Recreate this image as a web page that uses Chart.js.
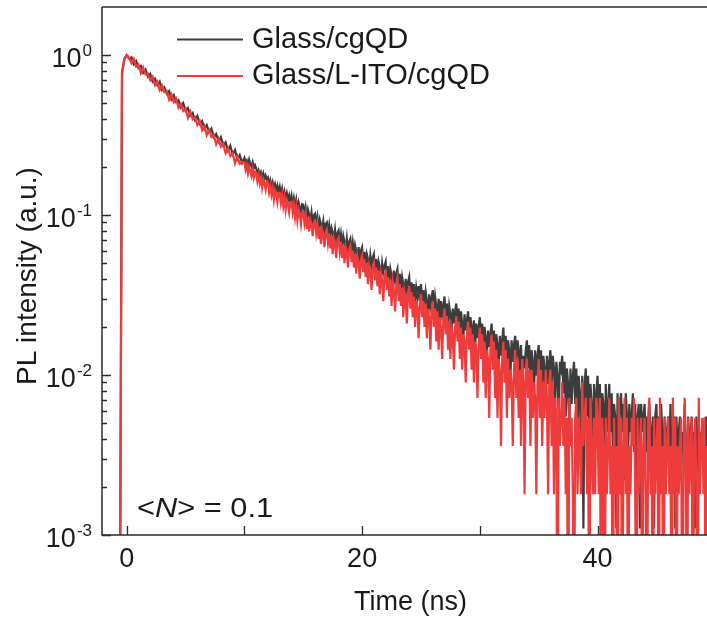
<!DOCTYPE html>
<html><head><meta charset="utf-8">
<script src="https://cdn.jsdelivr.net/npm/chart.js@4/dist/chart.umd.min.js"></script>
<style>html,body{margin:0;padding:0;background:#fff;}canvas{display:block;}</style>
</head><body>
<canvas id="c" width="707" height="620"></canvas>
<script>
const seriesLabels = ['Glass/cgQD', 'Glass/L-ITO/cgQD'];
const seriesColors = ['#3d3d3d', '#ee3b3b'];

// time axis (ns): 0.2 ns bins up to 10 ns, then 0.1 ns bins
const timeNs = [-0.6,-0.4,-0.2,
0,0.2,0.4,0.6,0.8,1,1.2,1.4,1.6,1.8,
2,2.2,2.4,2.6,2.8,3,3.2,3.4,3.6,3.8,
4,4.2,4.4,4.6,4.8,5,5.2,5.4,5.6,5.8,
6,6.2,6.4,6.6,6.8,7,7.2,7.4,7.6,7.8,
8,8.2,8.4,8.6,8.8,9,9.2,9.4,9.6,9.8,
10,10.1,10.2,10.3,10.4,10.5,10.6,10.7,10.8,10.9,
11,11.1,11.2,11.3,11.4,11.5,11.6,11.7,11.8,11.9,
12,12.1,12.2,12.3,12.4,12.5,12.6,12.7,12.8,12.9,
13,13.1,13.2,13.3,13.4,13.5,13.6,13.7,13.8,13.9,
14,14.1,14.2,14.3,14.4,14.5,14.6,14.7,14.8,14.9,
15,15.1,15.2,15.3,15.4,15.5,15.6,15.7,15.8,15.9,
16,16.1,16.2,16.3,16.4,16.5,16.6,16.7,16.8,16.9,
17,17.1,17.2,17.3,17.4,17.5,17.6,17.7,17.8,17.9,
18,18.1,18.2,18.3,18.4,18.5,18.6,18.7,18.8,18.9,
19,19.1,19.2,19.3,19.4,19.5,19.6,19.7,19.8,19.9,
20,20.1,20.2,20.3,20.4,20.5,20.6,20.7,20.8,20.9,
21,21.1,21.2,21.3,21.4,21.5,21.6,21.7,21.8,21.9,
22,22.1,22.2,22.3,22.4,22.5,22.6,22.7,22.8,22.9,
23,23.1,23.2,23.3,23.4,23.5,23.6,23.7,23.8,23.9,
24,24.1,24.2,24.3,24.4,24.5,24.6,24.7,24.8,24.9,
25,25.1,25.2,25.3,25.4,25.5,25.6,25.7,25.8,25.9,
26,26.1,26.2,26.3,26.4,26.5,26.6,26.7,26.8,26.9,
27,27.1,27.2,27.3,27.4,27.5,27.6,27.7,27.8,27.9,
28,28.1,28.2,28.3,28.4,28.5,28.6,28.7,28.8,28.9,
29,29.1,29.2,29.3,29.4,29.5,29.6,29.7,29.8,29.9,
30,30.1,30.2,30.3,30.4,30.5,30.6,30.7,30.8,30.9,
31,31.1,31.2,31.3,31.4,31.5,31.6,31.7,31.8,31.9,
32,32.1,32.2,32.3,32.4,32.5,32.6,32.7,32.8,32.9,
33,33.1,33.2,33.3,33.4,33.5,33.6,33.7,33.8,33.9,
34,34.1,34.2,34.3,34.4,34.5,34.6,34.7,34.8,34.9,
35,35.1,35.2,35.3,35.4,35.5,35.6,35.7,35.8,35.9,
36,36.1,36.2,36.3,36.4,36.5,36.6,36.7,36.8,36.9,
37,37.1,37.2,37.3,37.4,37.5,37.6,37.7,37.8,37.9,
38,38.1,38.2,38.3,38.4,38.5,38.6,38.7,38.8,38.9,
39,39.1,39.2,39.3,39.4,39.5,39.6,39.7,39.8,39.9,
40,40.1,40.2,40.3,40.4,40.5,40.6,40.7,40.8,40.9,
41,41.1,41.2,41.3,41.4,41.5,41.6,41.7,41.8,41.9,
42,42.1,42.2,42.3,42.4,42.5,42.6,42.7,42.8,42.9,
43,43.1,43.2,43.3,43.4,43.5,43.6,43.7,43.8,43.9,
44,44.1,44.2,44.3,44.4,44.5,44.6,44.7,44.8,44.9,
45,45.1,45.2,45.3,45.4,45.5,45.6,45.7,45.8,45.9,
46,46.1,46.2,46.3,46.4,46.5,46.6,46.7,46.8,46.9,
47,47.1,47.2,47.3,47.4,47.5,47.6,47.7,47.8,47.9,
48,48.1,48.2,48.3,48.4,48.5,48.6,48.7,48.8,48.9,
49,49.1,49.2,49.3,49.4];

// normalised PL intensity; 0.0001 = empty bin (below the 1e-3 axis floor)
const glassCgQD = [0.0001,0.78,0.95,
1.0,0.951,0.968,0.876,0.919,0.831,0.856,0.774,0.812,0.735,
0.764,0.684,0.712,0.650,0.683,0.605,0.629,0.574,0.597,0.529,
0.562,0.508,0.523,0.472,0.501,0.449,0.467,0.418,0.435,0.393,
0.417,0.373,0.388,0.344,0.365,0.330,0.347,0.307,0.322,0.289,
0.307,0.272,0.285,0.253,0.271,0.240,0.255,0.223,0.237,0.212,
0.228,0.212,0.219,0.205,0.222,0.208,0.201,0.214,0.197,0.205,
0.196,0.18,0.19,0.176,0.185,0.171,0.182,0.167,0.177,0.168,
0.172,0.155,0.165,0.149,0.16,0.147,0.156,0.141,0.152,0.139,
0.15,0.134,0.146,0.129,0.14,0.127,0.137,0.124,0.133,0.121,
0.132,0.115,0.127,0.111,0.124,0.108,0.12,0.112,0.104,0.117,
0.116,0.099,0.111,0.096,0.108,0.101,0.092,0.104,0.089,0.1,
0.102,0.087,0.097,0.083,0.094,0.088,0.08,0.091,0.078,0.088,
0.09,0.076,0.086,0.073,0.083,0.078,0.07,0.081,0.069,0.077,
0.08,0.067,0.076,0.064,0.074,0.068,0.061,0.071,0.059,0.068,
0.071,0.058,0.067,0.056,0.065,0.06,0.053,0.063,0.052,0.06,
0.063,0.051,0.059,0.048,0.057,0.053,0.046,0.056,0.049,0.054,
0.057,0.045,0.053,0.043,0.051,0.047,0.041,0.05,0.044,0.048,
0.051,0.04,0.048,0.038,0.046,0.042,0.036,0.045,0.039,0.043,
0.046,0.035,0.043,0.034,0.041,0.037,0.031,0.04,0.034,0.038,
0.041,0.033,0.038,0.03,0.037,0.028,0.035,0.031,0.036,0.029,
0.037,0.028,0.034,0.026,0.033,0.029,0.024,0.032,0.027,0.03,
0.034,0.025,0.031,0.027,0.023,0.03,0.021,0.029,0.024,0.027,
0.031,0.022,0.028,0.021,0.027,0.024,0.019,0.026,0.021,0.025,
0.028,0.02,0.026,0.018,0.025,0.021,0.017,0.024,0.019,0.022,
0.025,0.018,0.023,0.02,0.016,0.022,0.015,0.021,0.017,0.02,
0.023,0.016,0.021,0.014,0.02,0.017,0.013,0.019,0.015,0.018,
0.021,0.0143,0.019,0.0132,0.018,0.0154,0.011,0.0176,0.0132,0.0165,
0.0198,0.0132,0.0176,0.011,0.0165,0.0143,0.0099,0.0165,0.0121,0.0154,
0.0176,0.0121,0.0165,0.0143,0.0099,0.0154,0.0088,0.0132,0.011,0.0143,
0.0165,0.011,0.0154,0.0088,0.0143,0.0121,0.0077,0.0143,0.0099,0.0132,
0.0154,0.0099,0.0143,0.0077,0.0132,0.011,0.0066,0.0132,0.0088,0.0121,
0.0143,0.0088,0.0132,0.011,0.0066,0.0121,0.0099,0.0055,0.0121,0.011,
0.0132,0.0077,0.0121,0.0055,0.011,0.0088,0.0044,0.011,0.0066,0.0099,
0.0121,0.0066,0.011,0.0044,0.0099,0.0077,0.0033,0.0099,0.0011,0.0088,
0.011,0.0055,0.0099,0.0033,0.0088,0.0066,0.0022,0.0088,0.0044,0.0077,
0.0099,0.0055,0.0088,0.0033,0.0077,0.0066,0.0022,0.0088,0.0044,0.0066,
0.0088,0.0044,0.0077,0.0033,0.0066,0.0055,0.0011,0.0077,0.0044,0.0066,
0.0077,0.0044,0.0066,0.0022,0.0077,0.0055,0.0033,0.0066,0.0044,0.0055,
0.0077,0.0033,0.0066,0.0022,0.0055,0.0066,0.0011,0.0066,0.0044,0.0055,
0.0066,0.0033,0.0055,0.0022,0.0066,0.0044,0.0033,0.0055,0.0011,0.0055,
0.0066,0.0033,0.0055,0.0022,0.0066,0.0044,0.0022,0.0055,0.0033,0.0044,
0.0055,0.0033,0.0066,0.0022,0.0044,0.0055,0.0011,0.0055,0.0033,0.0044,
0.0055,0.0022,0.0044,0.0033,0.0066,0.0033,0.0022,0.0055,0.0033,0.0044,
0.0055,0.0022,0.0044,0.0011,0.0055,0.0033,0.0022,0.0044,0.0033,0.0044,
0.0044,0.0022,0.0055,0.0033,0.0044];

const glassLItoCgQD = [0.0001,0.76,0.94,
1.0,0.965,0.893,0.948,0.849,0.874,0.773,0.838,0.758,0.766,
0.699,0.734,0.650,0.683,0.605,0.649,0.587,0.598,0.528,0.568,
0.508,0.535,0.468,0.496,0.448,0.463,0.405,0.443,0.397,0.409,
0.366,0.388,0.340,0.362,0.316,0.340,0.307,0.316,0.277,0.301,
0.268,0.281,0.244,0.262,0.234,0.244,0.211,0.233,0.209,0.215,
0.214,0.192,0.206,0.183,0.2,0.188,0.176,0.195,0.172,0.186,
0.184,0.163,0.177,0.158,0.171,0.149,0.168,0.16,0.145,0.162,
0.16,0.139,0.152,0.134,0.147,0.125,0.143,0.137,0.121,0.138,
0.138,0.119,0.133,0.114,0.128,0.108,0.124,0.117,0.104,0.12,
0.121,0.104,0.116,0.097,0.112,0.093,0.108,0.101,0.088,0.104,
0.105,0.089,0.1,0.082,0.097,0.079,0.093,0.087,0.074,0.09,
0.092,0.077,0.087,0.071,0.084,0.066,0.081,0.075,0.063,0.078,
0.081,0.067,0.077,0.062,0.074,0.057,0.071,0.066,0.054,0.069,
0.072,0.059,0.068,0.054,0.065,0.05,0.063,0.058,0.047,0.061,
0.064,0.051,0.06,0.047,0.057,0.043,0.055,0.05,0.04,0.053,
0.056,0.044,0.053,0.041,0.05,0.037,0.048,0.044,0.034,0.047,
0.05,0.039,0.047,0.036,0.045,0.032,0.043,0.039,0.029,0.042,
0.044,0.034,0.041,0.031,0.039,0.027,0.038,0.034,0.025,0.036,
0.04,0.029,0.037,0.027,0.035,0.023,0.033,0.03,0.021,0.032,
0.036,0.026,0.033,0.023,0.031,0.02,0.029,0.026,0.017,0.028,
0.032,0.023,0.029,0.02,0.028,0.017,0.026,0.023,0.0144,0.025,
0.029,0.02,0.026,0.0162,0.025,0.0144,0.023,0.0198,0.0126,0.022,
0.026,0.018,0.0234,0.0144,0.0216,0.0126,0.0198,0.018,0.0108,0.0198,
0.0234,0.0162,0.0216,0.0126,0.0198,0.0108,0.018,0.0162,0.009,0.018,
0.0216,0.0144,0.0198,0.0108,0.018,0.009,0.0162,0.0144,0.0072,0.0162,
0.0198,0.0126,0.018,0.009,0.0162,0.0072,0.0144,0.0126,0.0054,0.0144,
0.018,0.0108,0.0162,0.0072,0.0144,0.0054,0.0126,0.0108,0.0036,0.0126,
0.0162,0.009,0.0144,0.0054,0.0126,0.0072,0.0108,0.009,0.0036,0.0108,
0.0144,0.0072,0.0126,0.0054,0.0108,0.0036,0.0126,0.009,0.0018,0.0108,
0.0126,0.0072,0.0108,0.0036,0.0108,0.0054,0.009,0.0072,0.0018,0.009,
0.0126,0.0054,0.0108,0.0036,0.009,0.0054,0.0108,0.0072,0.0018,0.009,
0.0108,0.0036,0.009,0.0018,0.0072,0.0054,0.0001,0.0072,0.0036,0.0054,
0.009,0.0036,0.0072,0.0018,0.0054,0.0001,0.0072,0.0036,0.0054,0.0018,
0.0001,0.0054,0.0072,0.0018,0.0054,0.0036,0.0018,0.009,0.0036,0.0054,
0.0072,0.0018,0.0054,0.0001,0.0072,0.0036,0.0018,0.0054,0.0018,0.0072,
0.0054,0.0018,0.0072,0.0001,0.0054,0.0036,0.0001,0.0054,0.0018,0.0036,
0.0072,0.0018,0.0036,0.0001,0.0054,0.0018,0.0036,0.0001,0.0072,0.0018,
0.0054,0.0001,0.0036,0.0072,0.0018,0.0054,0.0001,0.0036,0.0018,0.0054,
0.0036,0.0072,0.0018,0.0001,0.0054,0.0018,0.0036,0.0054,0.0001,0.0036,
0.0054,0.0018,0.0001,0.0054,0.0072,0.0018,0.0036,0.0001,0.0054,0.0018,
0.0036,0.0054,0.0001,0.0072,0.0018,0.0036,0.0001,0.0054,0.0018,0.0036,
0.0054,0.0018,0.0036,0.0001,0.0072,0.0018,0.0054,0.0001,0.0036,0.0018,
0.0036,0.0054,0.0001,0.0018,0.0072,0.0036,0.0001,0.0054,0.0018,0.0036,
0.0054,0.0001,0.0036,0.0054,0.0018,0.0001,0.0072,0.0018,0.0036,0.0054,
0.0018,0.0054,0.0001,0.0036,0.0018];

const yMajorTicks = [0.001, 0.01, 0.1, 1];
const yExponents = ['-3', '-2', '-1', '0'];
const yMinorMultipliers = [2, 3, 4, 5, 6, 7, 8, 9];
const xTickValues = [0, 10, 20, 30, 40];
const xTickLabels = ['0', '', '20', '', '40'];
const xTitle = 'Time (ns)';
const yTitle = 'PL intensity (a.u.)';

const FONT = '"Liberation Sans", Arial, Helvetica, sans-serif';
const TEXT = '#1a1a1a';
const AXIS = '#2a2a2a';

function pts(xs, ys) { return xs.map((t, i) => ({x: t, y: ys[i]})); }

const decor = {
  id: 'decor',
  afterDatasetsDraw(chart) {
    const {ctx, chartArea: a, scales: {x, y}} = chart;
    ctx.save();
    ctx.strokeStyle = AXIS;
    ctx.lineWidth = 1.5;
    ctx.beginPath();
    ctx.moveTo(a.left, a.top); ctx.lineTo(a.right, a.top);
    ctx.moveTo(a.left, a.top); ctx.lineTo(a.left, a.bottom); ctx.lineTo(a.right, a.bottom);
    ctx.stroke();

    ctx.lineWidth = 1.3;
    ctx.beginPath();
    yMajorTicks.forEach(m => {
      const py = Math.round(y.getPixelForValue(m)) + 0.5;
      ctx.moveTo(a.left, py); ctx.lineTo(a.left + 9, py);
      yMinorMultipliers.forEach(k => {
        const v = m * k;
        if (v >= y.max) return;
        const p = Math.round(y.getPixelForValue(v)) + 0.5;
        ctx.moveTo(a.left, p); ctx.lineTo(a.left + 5, p);
      });
    });
    xTickValues.forEach(v => {
      const px = Math.round(x.getPixelForValue(v)) + 0.5;
      ctx.moveTo(px, a.bottom); ctx.lineTo(px, a.bottom - 9);
    });
    ctx.stroke();

    ctx.fillStyle = TEXT;
    yMajorTicks.forEach((m, i) => {
      const py = y.getPixelForValue(m);
      ctx.font = '27px ' + FONT;
      const wb = ctx.measureText('10').width;
      ctx.font = '17px ' + FONT;
      const we = ctx.measureText(yExponents[i]).width;
      const right = 92;
      const xb = right - we - wb - 1;
      ctx.textAlign = 'left';
      ctx.textBaseline = 'alphabetic';
      ctx.font = '27px ' + FONT;
      ctx.fillText('10', xb, py + 11.5);
      ctx.font = '17px ' + FONT;
      ctx.fillText(yExponents[i], xb + wb + 1, py + 0.5);
    });
    ctx.font = '27px ' + FONT;
    ctx.textAlign = 'center';
    xTickValues.forEach((v, i) => {
      if (!xTickLabels[i]) return;
      ctx.fillText(xTickLabels[i], x.getPixelForValue(v), 567);
    });
    ctx.fillText(xTitle, (a.left + a.right) / 2 + 6, 610);
    ctx.save();
    ctx.translate(36, 276);
    ctx.rotate(-Math.PI / 2);
    ctx.font = '28px ' + FONT;
    ctx.textAlign = 'center';
    ctx.fillText(yTitle, 0, 0);
    ctx.restore();

    const rows = [39.5, 76];
    const bases = [48, 84];
    chart.data.datasets.slice().sort((p, q) => p.legendIndex - q.legendIndex).forEach((ds, i) => {
      ctx.strokeStyle = ds.borderColor;
      ctx.lineWidth = 2.2;
      ctx.beginPath();
      ctx.moveTo(177, rows[i]); ctx.lineTo(243, rows[i]);
      ctx.stroke();
      ctx.font = '29px ' + FONT;
      ctx.textAlign = 'left';
      ctx.fillStyle = TEXT;
      ctx.fillText(ds.label, 252, bases[i]);
    });

    ctx.save();
    ctx.translate(137, 517);
    ctx.scale(1.1, 1);
    let ax = 0;
    ctx.textAlign = 'left';
    ctx.font = '28px ' + FONT;
    ctx.fillText('<', ax, 0); ax += ctx.measureText('<').width;
    ctx.font = 'italic 28px ' + FONT;
    ctx.fillText('N', ax, 0); ax += ctx.measureText('N').width;
    ctx.font = '28px ' + FONT;
    ctx.fillText('> = 0.1', ax, 0);
    ctx.restore();
    ctx.restore();
  }
};

new Chart(document.getElementById('c'), {
  type: 'line',
  data: {
    datasets: [
      {label: seriesLabels[1], legendIndex: 1, data: pts(timeNs, glassLItoCgQD), borderColor: seriesColors[1], order: 0},
      {label: seriesLabels[0], legendIndex: 0, data: pts(timeNs, glassCgQD), borderColor: seriesColors[0], order: 1}
    ]
  },
  options: {
    responsive: false,
    animation: false,
    devicePixelRatio: 1,
    layout: {padding: {top: 7, left: 0, right: 0, bottom: 0}},
    plugins: {legend: {display: false}, tooltip: {enabled: false}},
    elements: {point: {radius: 0}, line: {borderWidth: 2.2, tension: 0}},
    scales: {
      x: {type: 'linear', min: -2.1, max: 49.3, ticks: {display: false}, grid: {display: false}, border: {display: false},
          afterFit(s) { s.height = 85; }},
      y: {type: 'logarithmic', min: 0.001, max: 2, ticks: {display: false}, grid: {display: false}, border: {display: false},
          afterFit(s) { s.width = 102; }}
    }
  },
  plugins: [decor]
});
</script>
</body></html>
